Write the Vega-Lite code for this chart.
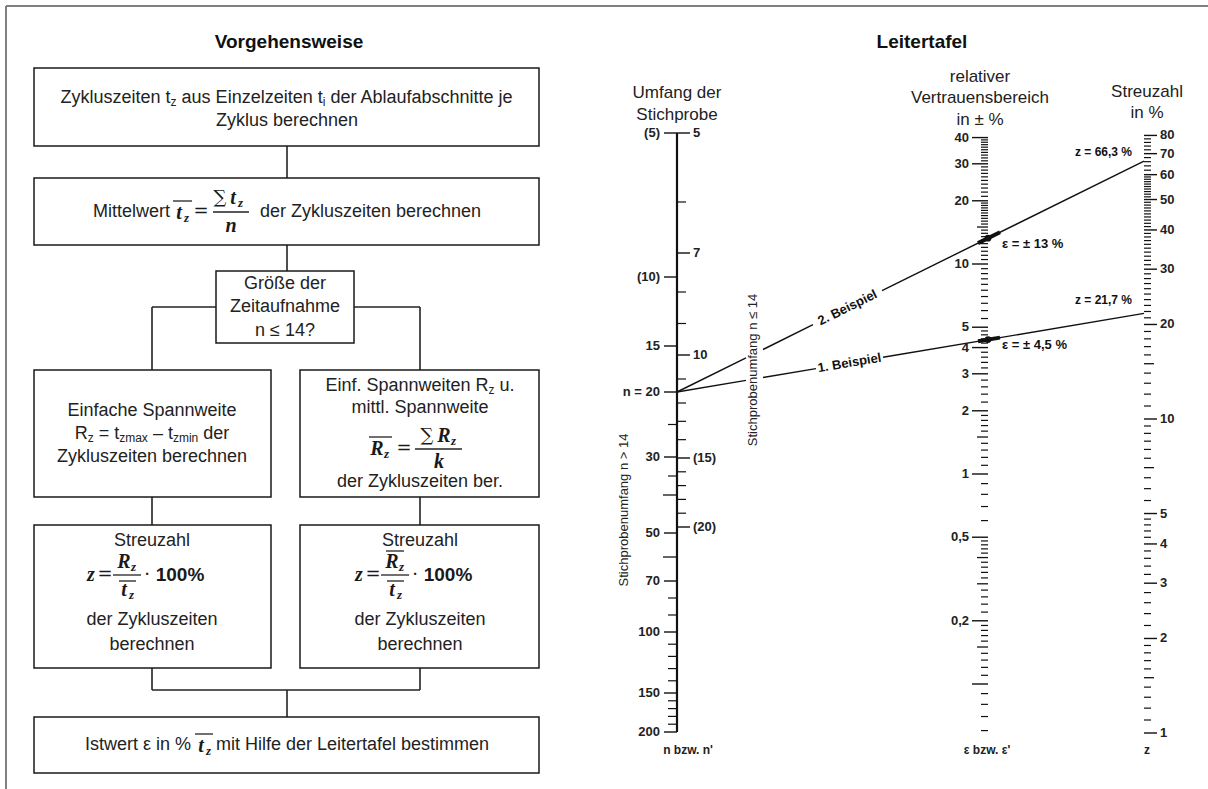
{
"$schema":"https://vega.github.io/schema/vega-lite/v6.json",
"width":1208,"height":789,
"autosize":{"type":"fit","contains":"padding"},
"padding":0,
"background":"white",
"config":{"view":{"stroke":null}},
"resolve":{"scale":{"y":"independent"}},
"datasets":{
"seg":[
{"g":"f","x":6,"y":6,"x2":1208,"y2":6},
{"g":"f","x":6,"y":6,"x2":6,"y2":789},
{"g":"a","x":677,"y":133,"x2":677,"y2":732},
{"g":"c","x":287,"y":146,"x2":287,"y2":178},
{"g":"c","x":287,"y":245,"x2":287,"y2":271},
{"g":"c","x":216,"y":307,"x2":152,"y2":307},
{"g":"c","x":152,"y":307,"x2":152,"y2":370},
{"g":"c","x":354,"y":307,"x2":420,"y2":307},
{"g":"c","x":420,"y":307,"x2":420,"y2":370},
{"g":"c","x":152,"y":497,"x2":152,"y2":525},
{"g":"c","x":420,"y":497,"x2":420,"y2":525},
{"g":"c","x":152,"y":668,"x2":152,"y2":690},
{"g":"c","x":420,"y":668,"x2":420,"y2":690},
{"g":"c","x":152,"y":690,"x2":420,"y2":690},
{"g":"c","x":287,"y":690,"x2":287,"y2":717},
{"g":"m","x":173,"y":201,"x2":192,"y2":201},
{"g":"m","x":213,"y":212,"x2":249,"y2":212},
{"g":"m","x":369,"y":437,"x2":392,"y2":437},
{"g":"m","x":415,"y":449,"x2":462,"y2":449},
{"g":"m","x":113,"y":575,"x2":141,"y2":575},
{"g":"m","x":119,"y":581,"x2":136,"y2":581},
{"g":"m","x":381,"y":575,"x2":409,"y2":575},
{"g":"m","x":386,"y":551,"x2":404,"y2":551},
{"g":"m","x":387,"y":581,"x2":404,"y2":581},
{"g":"m","x":195,"y":734,"x2":213,"y2":734},
{"g":"e","x":677,"y":392,"x2":746,"y2":357.9},
{"g":"e","x":763,"y":349.5,"x2":813,"y2":324.7},
{"g":"e","x":882,"y":290.6,"x2":1144,"y2":161.1},
{"g":"e","x":677,"y":392,"x2":746,"y2":380.4},
{"g":"e","x":763,"y":377.5,"x2":816,"y2":368.6},
{"g":"e","x":883,"y":357.3,"x2":1144,"y2":313.4},
{"g":"t","x":978,"y":243.1,"x2":1000,"y2":232.3},
{"g":"t","x":978,"y":341.3,"x2":1000,"y2":337.6}
],
"boxes":[
{"x":34,"x2":539,"y":68,"y2":146},
{"x":34,"x2":539,"y":178,"y2":245},
{"x":216,"x2":354,"y":271,"y2":343},
{"x":34,"x2":271,"y":370,"y2":497},
{"x":300,"x2":539,"y":370,"y2":497},
{"x":34,"x2":271,"y":525,"y2":668},
{"x":300,"x2":539,"y":525,"y2":668},
{"x":34,"x2":539,"y":717,"y2":773}
],
"ft":[
{"k":"T","x":289,"y":42,"t":"Vorgehensweise"},
{"k":"T","x":922,"y":42,"t":"Leitertafel"},
{"k":"BL","x":60.5,"y":98,"t":"Zykluszeiten t"},
{"k":"S","x":170.6,"y":102,"t":"z"},
{"k":"BL","x":181.6,"y":98,"t":"aus Einzelzeiten t"},
{"k":"S","x":322.7,"y":102,"t":"i"},
{"k":"BL","x":330.4,"y":98,"t":"der Ablaufabschnitte je"},
{"k":"B","x":287,"y":121,"t":"Zyklus berechnen"},
{"k":"BL","x":93,"y":212,"t":"Mittelwert"},
{"k":"BL","x":260,"y":212,"t":"der Zykluszeiten berechnen"},
{"k":"B","x":285,"y":284,"t":"Größe der"},
{"k":"B","x":285,"y":307,"t":"Zeitaufnahme"},
{"k":"B","x":285,"y":331,"t":"n ≤ 14?"},
{"k":"B","x":152,"y":411,"t":"Einfache Spannweite"},
{"k":"BL","x":74.7,"y":434,"t":"R"},
{"k":"S","x":87.7,"y":438,"t":"z"},
{"k":"BL","x":98.7,"y":434,"t":"= t"},
{"k":"S","x":119.2,"y":438,"t":"zmax"},
{"k":"BL","x":152.9,"y":434,"t":"– t"},
{"k":"S","x":172.9,"y":438,"t":"zmin"},
{"k":"BL","x":203.2,"y":434,"t":"der"},
{"k":"B","x":152,"y":457,"t":"Zykluszeiten berechnen"},
{"k":"BL","x":325.5,"y":386,"t":"Einf. Spannweiten R"},
{"k":"S","x":488.6,"y":390,"t":"z"},
{"k":"BL","x":499.6,"y":386,"t":"u."},
{"k":"B","x":420,"y":408,"t":"mittl. Spannweite"},
{"k":"B","x":420,"y":482,"t":"der Zykluszeiten ber."},
{"k":"B","x":152,"y":541,"t":"Streuzahl"},
{"k":"B","x":420,"y":541,"t":"Streuzahl"},
{"k":"B","x":152,"y":620,"t":"der Zykluszeiten"},
{"k":"B","x":420,"y":620,"t":"der Zykluszeiten"},
{"k":"B","x":152,"y":645,"t":"berechnen"},
{"k":"B","x":420,"y":645,"t":"berechnen"},
{"k":"BL","x":85,"y":745,"t":"Istwert ε in %"},
{"k":"BL","x":216,"y":745,"t":"mit Hilfe der Leitertafel bestimmen"},
{"k":"M","x":179,"y":213,"t":"t"},
{"k":"Ms","x":184,"y":218,"t":"z"},
{"k":"Mn","x":201,"y":212,"t":"="},
{"k":"Mn","x":220,"y":198,"t":"∑"},
{"k":"M","x":233,"y":198,"t":"t"},
{"k":"Ms","x":238,"y":203,"t":"z"},
{"k":"M","x":231,"y":226,"t":"n"},
{"k":"M","x":377,"y":449,"t":"R"},
{"k":"Ms","x":384,"y":454,"t":"z"},
{"k":"Mn","x":404,"y":449,"t":"="},
{"k":"Mn","x":427,"y":436,"t":"∑"},
{"k":"M","x":444,"y":436,"t":"R"},
{"k":"Ms","x":451,"y":441,"t":"z"},
{"k":"M","x":439,"y":462,"t":"k"},
{"k":"M","x":91,"y":575,"t":"z"},
{"k":"Mn","x":105,"y":575,"t":"="},
{"k":"M","x":124,"y":562,"t":"R"},
{"k":"Ms","x":131,"y":567,"t":"z"},
{"k":"M","x":124,"y":590,"t":"t"},
{"k":"Ms","x":129,"y":595,"t":"z"},
{"k":"Mn","x":147,"y":575,"t":"·"},
{"k":"Mb","x":180,"y":575,"t":"100%"},
{"k":"M","x":359,"y":575,"t":"z"},
{"k":"Mn","x":373,"y":575,"t":"="},
{"k":"M","x":392,"y":562,"t":"R"},
{"k":"Ms","x":399,"y":567,"t":"z"},
{"k":"M","x":392,"y":590,"t":"t"},
{"k":"Ms","x":397,"y":595,"t":"z"},
{"k":"Mn","x":415,"y":575,"t":"·"},
{"k":"Mb","x":448,"y":575,"t":"100%"},
{"k":"M","x":201,"y":746,"t":"t"},
{"k":"Ms","x":206,"y":751,"t":"z"}
],
"nt":[
{"k":"H","x":677,"y":93,"t":"Umfang der"},
{"k":"H","x":677,"y":115,"t":"Stichprobe"},
{"k":"H","x":980,"y":77,"t":"relativer"},
{"k":"H","x":980,"y":98,"t":"Vertrauensbereich"},
{"k":"H","x":980,"y":120,"t":"in ± %"},
{"k":"H","x":1147,"y":92,"t":"Streuzahl"},
{"k":"H","x":1147,"y":113,"t":"in %"},
{"k":"Bt","x":688,"y":750,"t":"n bzw. n'"},
{"k":"Bt","x":987,"y":750,"t":"ε bzw. ε'"},
{"k":"Bt","x":1147,"y":750,"t":"z"},
{"k":"Rt","x":753,"y":370,"t":"Stichprobenumfang n ≤ 14"},
{"k":"Rt","x":624,"y":510,"t":"Stichprobenumfang n > 14"},
{"k":"E2","x":847.5,"y":307.7,"t":"2. Beispiel"},
{"k":"E1","x":849.5,"y":363,"t":"1. Beispiel"},
{"k":"ML","x":1002,"y":244,"t":"ε = ± 13 %"},
{"k":"ML","x":1002,"y":345,"t":"ε = ± 4,5 %"},
{"k":"ZL","x":1132,"y":152,"t":"z = 66,3 %"},
{"k":"ZL","x":1132,"y":300,"t":"z = 21,7 %"}
],
"mk":[{"x":988,"y":238.2},{"x":988,"y":339.6}],
"tk":[
{"ax":"e","lv":"M","v":[40,30,20,10,5,4,3,2,1,0.5,0.2,0.1]},
{"ax":"e","lv":"d","v":[15,1.5,0.4,0.3,0.15]},
{"ax":"e","lv":"m","v":[0.06,0.07,0.08,0.09,0.11,0.12,0.13,0.14,0.16,0.17,0.18,0.19,0.22,0.24,0.26,0.28,0.32,0.34,0.36,0.38,0.42,0.44,0.46,0.48,0.6,0.7,0.8,0.9,1.1,1.2,1.3,1.4,1.6,1.7,1.8,1.9,2.2,2.4,2.6,2.8,3.2,3.4,3.6,3.8,4.2,4.4,4.6,4.8,5.5,6,6.5,7,7.5,8,8.5,9,9.5,10.5,11,11.5,12,12.5,13,13.5,14,14.5,15.5,16,16.5,17,17.5,18,18.5,19,19.5,21,22,23,24,25,26,27,28,29,31,32,33,34,35,36,37,38,39]},
{"ax":"z","lv":"M","v":[1,2,3,4,5,10,20,30,40,50,60,70,80]},
{"ax":"z","lv":"d","v":[1.5,7,15]},
{"ax":"z","lv":"m","v":[1.1,1.2,1.3,1.4,1.6,1.7,1.8,1.9,2.2,2.4,2.6,2.8,3.2,3.4,3.6,3.8,4.2,4.4,4.6,4.8,5.5,6,6.5,7.5,8,8.5,9,9.5,11,12,13,14,16,17,18,19,21,22,23,24,25,26,27,28,29,31,32,33,34,35,36,37,38,39,41,42,43,44,45,46,47,48,49,51,52,53,54,55,56,57,58,59,62,64,66,68,72,74,76,78]},
{"ax":"nl","lv":"M","v":[5,10,15,20,30,50,70,100,150,200]},
{"ax":"nl","lv":"d","v":[40,60]},
{"ax":"nl","lv":"m","v":[25,35,80,90,110,120,130,140,160,170,180,190]},
{"ax":"nr","lv":"M","v":[5,7,10,15,20]},
{"ax":"nr","lv":"m","v":[6,8,9,11,12,13,14,16,17,18,19]}
],
"lb":[
{"ax":"e","v":40,"t":"40"},{"ax":"e","v":30,"t":"30"},{"ax":"e","v":20,"t":"20"},{"ax":"e","v":10,"t":"10"},{"ax":"e","v":5,"t":"5"},{"ax":"e","v":4,"t":"4"},{"ax":"e","v":3,"t":"3"},{"ax":"e","v":2,"t":"2"},{"ax":"e","v":1,"t":"1"},{"ax":"e","v":0.5,"t":"0,5"},{"ax":"e","v":0.2,"t":"0,2"},
{"ax":"z","v":80,"t":"80"},{"ax":"z","v":70,"t":"70"},{"ax":"z","v":60,"t":"60"},{"ax":"z","v":50,"t":"50"},{"ax":"z","v":40,"t":"40"},{"ax":"z","v":30,"t":"30"},{"ax":"z","v":20,"t":"20"},{"ax":"z","v":10,"t":"10"},{"ax":"z","v":5,"t":"5"},{"ax":"z","v":4,"t":"4"},{"ax":"z","v":3,"t":"3"},{"ax":"z","v":2,"t":"2"},{"ax":"z","v":1,"t":"1"},
{"ax":"nl","v":5,"t":"(5)"},{"ax":"nl","v":10,"t":"(10)"},{"ax":"nl","v":15,"t":"15"},{"ax":"nl","v":20,"t":"n = 20"},{"ax":"nl","v":30,"t":"30"},{"ax":"nl","v":50,"t":"50"},{"ax":"nl","v":70,"t":"70"},{"ax":"nl","v":100,"t":"100"},{"ax":"nl","v":150,"t":"150"},{"ax":"nl","v":200,"t":"200"},
{"ax":"nr","v":5,"t":"5"},{"ax":"nr","v":7,"t":"7"},{"ax":"nr","v":10,"t":"10"},{"ax":"nr","v":15,"t":"(15)"},{"ax":"nr","v":20,"t":"(20)"}
]
},
"layer":[
{"data":{"name":"seg"},"transform":[{"filter":"datum.g==='f'"}],"mark":{"type":"rule","stroke":"#808080","strokeWidth":2},
 "encoding":{"x":{"field":"x","type":"quantitative","scale":{"domain":[0,1208],"range":[0,1208],"nice":false,"zero":false},"axis":null},"x2":{"field":"x2"},"y":{"field":"y","type":"quantitative","scale":{"domain":[0,789],"range":[0,789],"nice":false,"zero":false},"axis":null},"y2":{"field":"y2"}}},
{"data":{"name":"seg"},"transform":[{"filter":"datum.g==='c'"}],"mark":{"type":"rule","stroke":"#222","strokeWidth":1.6},
 "encoding":{"x":{"field":"x","type":"quantitative","scale":{"domain":[0,1208],"range":[0,1208],"nice":false,"zero":false},"axis":null},"x2":{"field":"x2"},"y":{"field":"y","type":"quantitative","scale":{"domain":[0,789],"range":[0,789],"nice":false,"zero":false},"axis":null},"y2":{"field":"y2"}}},
{"data":{"name":"boxes"},"mark":{"type":"rect","fill":"#a8a8a8","xOffset":1.5,"yOffset":1.5},
 "encoding":{"x":{"field":"x","type":"quantitative","scale":{"domain":[0,1208],"range":[0,1208],"nice":false,"zero":false},"axis":null},"x2":{"field":"x2"},"y":{"field":"y","type":"quantitative","scale":{"domain":[0,789],"range":[0,789],"nice":false,"zero":false},"axis":null},"y2":{"field":"y2"}}},
{"data":{"name":"boxes"},"mark":{"type":"rect","fill":"white","stroke":"#1a1a1a","strokeWidth":1.5},
 "encoding":{"x":{"field":"x","type":"quantitative","scale":{"domain":[0,1208],"range":[0,1208],"nice":false,"zero":false},"axis":null},"x2":{"field":"x2"},"y":{"field":"y","type":"quantitative","scale":{"domain":[0,789],"range":[0,789],"nice":false,"zero":false},"axis":null},"y2":{"field":"y2"}}},
{"data":{"name":"seg"},"transform":[{"filter":"datum.g==='m'"}],"mark":{"type":"rule","stroke":"#222","strokeWidth":1.3},
 "encoding":{"x":{"field":"x","type":"quantitative","scale":{"domain":[0,1208],"range":[0,1208],"nice":false,"zero":false},"axis":null},"x2":{"field":"x2"},"y":{"field":"y","type":"quantitative","scale":{"domain":[0,789],"range":[0,789],"nice":false,"zero":false},"axis":null},"y2":{"field":"y2"}}},
{"data":{"name":"seg"},"transform":[{"filter":"datum.g==='a'"}],"mark":{"type":"rule","stroke":"#111","strokeWidth":2.2},
 "encoding":{"x":{"field":"x","type":"quantitative","scale":{"domain":[0,1208],"range":[0,1208],"nice":false,"zero":false},"axis":null},"x2":{"field":"x2"},"y":{"field":"y","type":"quantitative","scale":{"domain":[0,789],"range":[0,789],"nice":false,"zero":false},"axis":null},"y2":{"field":"y2"}}},
{"data":{"name":"seg"},"transform":[{"filter":"datum.g==='e'"}],"mark":{"type":"rule","stroke":"#111","strokeWidth":1.4},
 "encoding":{"x":{"field":"x","type":"quantitative","scale":{"domain":[0,1208],"range":[0,1208],"nice":false,"zero":false},"axis":null},"x2":{"field":"x2"},"y":{"field":"y","type":"quantitative","scale":{"domain":[0,789],"range":[0,789],"nice":false,"zero":false},"axis":null},"y2":{"field":"y2"}}},
{"data":{"name":"seg"},"transform":[{"filter":"datum.g==='t'"}],"mark":{"type":"rule","stroke":"#111","strokeWidth":4},
 "encoding":{"x":{"field":"x","type":"quantitative","scale":{"domain":[0,1208],"range":[0,1208],"nice":false,"zero":false},"axis":null},"x2":{"field":"x2"},"y":{"field":"y","type":"quantitative","scale":{"domain":[0,789],"range":[0,789],"nice":false,"zero":false},"axis":null},"y2":{"field":"y2"}}},
{"data":{"name":"mk"},"mark":{"type":"point","filled":true,"color":"#111","size":45,"opacity":1},
 "encoding":{"x":{"field":"x","type":"quantitative","scale":{"domain":[0,1208],"range":[0,1208],"nice":false,"zero":false},"axis":null},"y":{"field":"y","type":"quantitative","scale":{"domain":[0,789],"range":[0,789],"nice":false,"zero":false},"axis":null}}},
{"data":{"name":"ft"},
 "encoding":{"x":{"field":"x","type":"quantitative","scale":{"domain":[0,1208],"range":[0,1208],"nice":false,"zero":false},"axis":null},"y":{"field":"y","type":"quantitative","scale":{"domain":[0,789],"range":[0,789],"nice":false,"zero":false},"axis":null},"text":{"field":"t"}},
 "layer":[
  {"transform":[{"filter":"datum.k==='T'"}],"mark":{"type":"text","font":"Liberation Sans","fontSize":19,"fontWeight":"bold","color":"#111","align":"center","baseline":"middle"}},
  {"transform":[{"filter":"datum.k==='B'"}],"mark":{"type":"text","font":"Liberation Sans","fontSize":18,"color":"#222","align":"center","baseline":"middle"}},
  {"transform":[{"filter":"datum.k==='BL'"}],"mark":{"type":"text","font":"Liberation Sans","fontSize":18,"color":"#222","align":"left","baseline":"middle"}},
  {"transform":[{"filter":"datum.k==='S'"}],"mark":{"type":"text","font":"Liberation Sans","fontSize":12,"color":"#222","align":"left","baseline":"middle"}},
  {"transform":[{"filter":"datum.k==='M'"}],"mark":{"type":"text","font":"Liberation Serif","fontSize":20,"fontStyle":"italic","fontWeight":"bold","color":"#1a1a1a","align":"center","baseline":"middle"}},
  {"transform":[{"filter":"datum.k==='Ms'"}],"mark":{"type":"text","font":"Liberation Serif","fontSize":13,"fontStyle":"italic","fontWeight":"bold","color":"#1a1a1a","align":"left","baseline":"middle"}},
  {"transform":[{"filter":"datum.k==='Mn'"}],"mark":{"type":"text","font":"DejaVu Serif","fontSize":18,"color":"#1a1a1a","align":"center","baseline":"middle"}},
  {"transform":[{"filter":"datum.k==='Mb'"}],"mark":{"type":"text","font":"Liberation Sans","fontSize":19,"fontWeight":"bold","color":"#1a1a1a","align":"center","baseline":"middle"}}
 ]},
{"data":{"name":"nt"},
 "encoding":{"x":{"field":"x","type":"quantitative","scale":{"domain":[0,1208],"range":[0,1208],"nice":false,"zero":false},"axis":null},"y":{"field":"y","type":"quantitative","scale":{"domain":[0,789],"range":[0,789],"nice":false,"zero":false},"axis":null},"text":{"field":"t"}},
 "layer":[
  {"transform":[{"filter":"datum.k==='H'"}],"mark":{"type":"text","font":"Liberation Sans","fontSize":17,"color":"#222","align":"center","baseline":"middle"}},
  {"transform":[{"filter":"datum.k==='Bt'"}],"mark":{"type":"text","font":"Liberation Sans","fontSize":12,"fontWeight":"bold","color":"#222","align":"center","baseline":"middle"}},
  {"transform":[{"filter":"datum.k==='Rt'"}],"mark":{"type":"text","font":"Liberation Sans","fontSize":13,"color":"#222","align":"center","baseline":"middle","angle":270}},
  {"transform":[{"filter":"datum.k==='E2'"}],"mark":{"type":"text","font":"Liberation Sans","fontSize":13,"fontWeight":"bold","color":"#111","align":"center","baseline":"middle","angle":333.7}},
  {"transform":[{"filter":"datum.k==='E1'"}],"mark":{"type":"text","font":"Liberation Sans","fontSize":13,"fontWeight":"bold","color":"#111","align":"center","baseline":"middle","angle":350.4}},
  {"transform":[{"filter":"datum.k==='ML'"}],"mark":{"type":"text","font":"Liberation Sans","fontSize":13,"fontWeight":"bold","color":"#111","align":"left","baseline":"middle"}},
  {"transform":[{"filter":"datum.k==='ZL'"}],"mark":{"type":"text","font":"Liberation Sans","fontSize":12,"fontWeight":"bold","color":"#111","align":"right","baseline":"middle"}}
 ]},
{"encoding":{"y":{"field":"v","type":"quantitative","scale":{"type":"log","domain":[1,10],"range":[474,264],"nice":false},"axis":null}},
 "layer":[
  {"data":{"values":[{}]},"mark":{"type":"rule","stroke":"#111","strokeWidth":2.2},"encoding":{"x":{"datum":988,"type":"quantitative","scale":{"domain":[0,1208],"range":[0,1208],"nice":false,"zero":false},"axis":null},"y":{"datum":40},"y2":{"datum":0.06}}},
  {"data":{"name":"tk"},"transform":[{"flatten":["v"]},{"filter":"datum.ax==='e' && datum.lv==='M'"}],"mark":{"type":"rule","stroke":"#111","strokeWidth":1.4},"encoding":{"x":{"datum":972,"type":"quantitative","scale":{"domain":[0,1208],"range":[0,1208],"nice":false,"zero":false},"axis":null},"x2":{"datum":988}}},
  {"data":{"name":"tk"},"transform":[{"flatten":["v"]},{"filter":"datum.ax==='e' && datum.lv==='d'"}],"mark":{"type":"rule","stroke":"#111","strokeWidth":1.3},"encoding":{"x":{"datum":977,"type":"quantitative","scale":{"domain":[0,1208],"range":[0,1208],"nice":false,"zero":false},"axis":null},"x2":{"datum":988}}},
  {"data":{"name":"tk"},"transform":[{"flatten":["v"]},{"filter":"datum.ax==='e' && datum.lv==='m'"}],"mark":{"type":"rule","stroke":"#111","strokeWidth":1.2},"encoding":{"x":{"datum":981,"type":"quantitative","scale":{"domain":[0,1208],"range":[0,1208],"nice":false,"zero":false},"axis":null},"x2":{"datum":988}}},
  {"data":{"name":"lb"},"transform":[{"filter":"datum.ax==='e'"}],"mark":{"type":"text","font":"Liberation Sans","fontSize":13,"fontWeight":"bold","color":"#222","align":"right","baseline":"middle"},"encoding":{"x":{"datum":969,"type":"quantitative","scale":{"domain":[0,1208],"range":[0,1208],"nice":false,"zero":false},"axis":null},"text":{"field":"t"}}}
 ]},
{"encoding":{"y":{"field":"v","type":"quantitative","scale":{"type":"log","domain":[1,10],"range":[733,419],"nice":false},"axis":null}},
 "layer":[
  {"data":{"values":[{}]},"mark":{"type":"rule","stroke":"#111","strokeWidth":2.2},"encoding":{"x":{"datum":1144,"type":"quantitative","scale":{"domain":[0,1208],"range":[0,1208],"nice":false,"zero":false},"axis":null},"y":{"datum":80},"y2":{"datum":1}}},
  {"data":{"name":"tk"},"transform":[{"flatten":["v"]},{"filter":"datum.ax==='z' && datum.lv==='M'"}],"mark":{"type":"rule","stroke":"#111","strokeWidth":1.4},"encoding":{"x":{"datum":1144,"type":"quantitative","scale":{"domain":[0,1208],"range":[0,1208],"nice":false,"zero":false},"axis":null},"x2":{"datum":1157}}},
  {"data":{"name":"tk"},"transform":[{"flatten":["v"]},{"filter":"datum.ax==='z' && datum.lv==='d'"}],"mark":{"type":"rule","stroke":"#111","strokeWidth":1.3},"encoding":{"x":{"datum":1144,"type":"quantitative","scale":{"domain":[0,1208],"range":[0,1208],"nice":false,"zero":false},"axis":null},"x2":{"datum":1154}}},
  {"data":{"name":"tk"},"transform":[{"flatten":["v"]},{"filter":"datum.ax==='z' && datum.lv==='m'"}],"mark":{"type":"rule","stroke":"#111","strokeWidth":1.2},"encoding":{"x":{"datum":1144,"type":"quantitative","scale":{"domain":[0,1208],"range":[0,1208],"nice":false,"zero":false},"axis":null},"x2":{"datum":1151}}},
  {"data":{"name":"lb"},"transform":[{"filter":"datum.ax==='z'"}],"mark":{"type":"text","font":"Liberation Sans","fontSize":13,"fontWeight":"bold","color":"#222","align":"left","baseline":"middle"},"encoding":{"x":{"datum":1160,"type":"quantitative","scale":{"domain":[0,1208],"range":[0,1208],"nice":false,"zero":false},"axis":null},"text":{"field":"t"}}}
 ]},
{"encoding":{"y":{"field":"v","type":"quantitative","scale":{"type":"linear","domain":[5,10,15,20,30,50,70,100,150,200],"range":[133,277,346,392,457,533,581,632,693,732],"nice":false,"zero":false},"axis":null}},
 "layer":[
  {"data":{"name":"tk"},"transform":[{"flatten":["v"]},{"filter":"datum.ax==='nl' && datum.lv==='M'"}],"mark":{"type":"rule","stroke":"#111","strokeWidth":1.4},"encoding":{"x":{"datum":664,"type":"quantitative","scale":{"domain":[0,1208],"range":[0,1208],"nice":false,"zero":false},"axis":null},"x2":{"datum":677}}},
  {"data":{"name":"tk"},"transform":[{"flatten":["v"]},{"filter":"datum.ax==='nl' && datum.lv==='d'"}],"mark":{"type":"rule","stroke":"#111","strokeWidth":1.3},"encoding":{"x":{"datum":663,"type":"quantitative","scale":{"domain":[0,1208],"range":[0,1208],"nice":false,"zero":false},"axis":null},"x2":{"datum":677}}},
  {"data":{"name":"tk"},"transform":[{"flatten":["v"]},{"filter":"datum.ax==='nl' && datum.lv==='m'"}],"mark":{"type":"rule","stroke":"#111","strokeWidth":1.2},"encoding":{"x":{"datum":668,"type":"quantitative","scale":{"domain":[0,1208],"range":[0,1208],"nice":false,"zero":false},"axis":null},"x2":{"datum":677}}},
  {"data":{"name":"lb"},"transform":[{"filter":"datum.ax==='nl'"}],"mark":{"type":"text","font":"Liberation Sans","fontSize":13,"fontWeight":"bold","color":"#222","align":"right","baseline":"middle"},"encoding":{"x":{"datum":660,"type":"quantitative","scale":{"domain":[0,1208],"range":[0,1208],"nice":false,"zero":false},"axis":null},"text":{"field":"t"}}}
 ]},
{"encoding":{"y":{"field":"v","type":"quantitative","scale":{"type":"linear","domain":[5,6,7,8,10,12,15,20],"range":[133,202,253,292,355,403,458,527],"nice":false,"zero":false},"axis":null}},
 "layer":[
  {"data":{"name":"tk"},"transform":[{"flatten":["v"]},{"filter":"datum.ax==='nr' && datum.lv==='M'"}],"mark":{"type":"rule","stroke":"#111","strokeWidth":1.4},"encoding":{"x":{"datum":677,"type":"quantitative","scale":{"domain":[0,1208],"range":[0,1208],"nice":false,"zero":false},"axis":null},"x2":{"datum":690}}},
  {"data":{"name":"tk"},"transform":[{"flatten":["v"]},{"filter":"datum.ax==='nr' && datum.lv==='m'"}],"mark":{"type":"rule","stroke":"#111","strokeWidth":1.2},"encoding":{"x":{"datum":677,"type":"quantitative","scale":{"domain":[0,1208],"range":[0,1208],"nice":false,"zero":false},"axis":null},"x2":{"datum":686}}},
  {"data":{"name":"lb"},"transform":[{"filter":"datum.ax==='nr'"}],"mark":{"type":"text","font":"Liberation Sans","fontSize":13,"fontWeight":"bold","color":"#222","align":"left","baseline":"middle"},"encoding":{"x":{"datum":693,"type":"quantitative","scale":{"domain":[0,1208],"range":[0,1208],"nice":false,"zero":false},"axis":null},"text":{"field":"t"}}}
 ]}
]
}
